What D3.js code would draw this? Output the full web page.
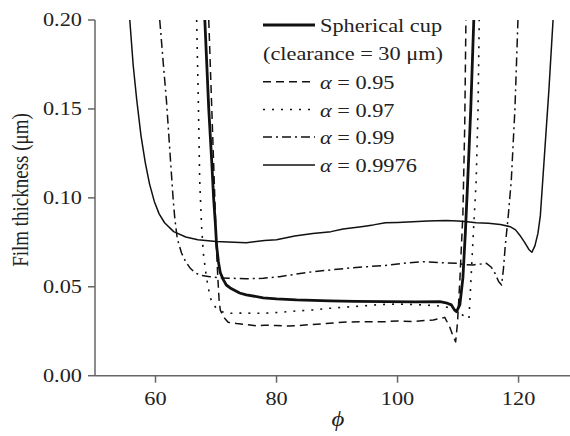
<!DOCTYPE html>
<html><head><meta charset="utf-8">
<script src="https://cdn.jsdelivr.net/npm/d3@7/dist/d3.min.js"></script>
<style>
html,body{margin:0;padding:0;background:#fff;}
svg{display:block;}
text{font-family:"Liberation Serif","Times New Roman",serif;fill:#222;}
</style></head>
<body>
<div id="chart"></div>
<script>
// ---- data ----
const xTicks = [60, 80, 100, 120];
const yTicks = [0.00, 0.05, 0.10, 0.15, 0.20];

const seriesNames = ["Spherical cup", "α = 0.95", "α = 0.97", "α = 0.99", "α = 0.9976"];

const phiCup = [68.15,68.8,69.3,69.6,69.9,70.1,70.4,70.7,71.2,71.7,72.5,73.9,75,77.8,80,83.3,88.8,93,98,103,107,108,108.9,109.4,109.75,110.3,110.8,111.2,111.6,112.1,112.6];
const hCup   = [0.2,0.15,0.12,0.10,0.085,0.073,0.064,0.058,0.054,0.051,0.049,0.0465,0.0455,0.0438,0.0432,0.0426,0.0421,0.0418,0.0416,0.0415,0.0416,0.041,0.0398,0.037,0.036,0.040,0.055,0.08,0.11,0.15,0.2];

const phi95 = [68.8,69.2,69.6,69.9,70.1,70.3,70.5,70.7,71.2,72,73.4,75,76.7,78,80,82,83.3,86,88.8,91.6,95,98.2,100,102.6,104,105.9,107.8,108.6,109.1,109.6,109.9,110.3,110.8,111.1,111.3];
const h95   = [0.2,0.16,0.12,0.09,0.07,0.055,0.043,0.037,0.0332,0.030,0.0293,0.0288,0.028,0.0284,0.0282,0.0279,0.0281,0.0288,0.0295,0.0302,0.0304,0.0304,0.0308,0.0304,0.0309,0.0313,0.0328,0.0276,0.023,0.019,0.0295,0.054,0.091,0.14,0.2];

const phi97 = [66.8,67.1,67.3,67.6,67.9,68.4,69,69.5,70.1,71,71.7,74,77.8,80,83.3,86,88.8,91,94.3,97,100,103,107,109,110,110.8,111.5,111.8,112,112.3,112.6,113,113.3,113.5];
const h97   = [0.2,0.15,0.11,0.085,0.069,0.0557,0.0444,0.040,0.0379,0.036,0.0351,0.0352,0.0351,0.0355,0.0364,0.037,0.0379,0.0385,0.0392,0.040,0.0403,0.040,0.0392,0.038,0.036,0.034,0.0325,0.032,0.045,0.065,0.085,0.11,0.15,0.2];

const phi99 = [60.7,61.3,61.8,62.4,62.9,63.2,63.6,64.3,65,65.7,66.5,67.3,69,70.6,72.3,75,77.8,80.5,83,86,89,91.6,95,98,101,104.2,107,109.75,111,112.5,114.7,115.5,116.1,116.7,117.2,117.5,117.8,118.3,118.8,119.4,119.9];
const h99   = [0.2,0.175,0.155,0.125,0.10,0.088,0.077,0.069,0.064,0.0606,0.058,0.0566,0.0557,0.055,0.0548,0.0545,0.0548,0.0557,0.057,0.0585,0.0595,0.0604,0.0613,0.062,0.0632,0.0641,0.0636,0.0632,0.0625,0.0623,0.0632,0.061,0.0576,0.053,0.051,0.06,0.073,0.09,0.11,0.15,0.2];

const phi9976 = [55.75,56.3,56.9,57.6,58.3,59,59.8,60.6,61.5,63,65,67,70,72,75,78,80,83,86,89,91,94,96,98,100,102.5,105,108,110,111.5,113,115,117,118.6,119.5,120.2,121,121.7,122.2,122.7,123.2,123.6,124.2,125,125.7];
const h9976   = [0.2,0.175,0.155,0.135,0.12,0.108,0.098,0.091,0.086,0.081,0.078,0.0765,0.0755,0.0752,0.0748,0.076,0.0765,0.0786,0.080,0.081,0.0825,0.0838,0.0848,0.086,0.0862,0.0866,0.087,0.0872,0.087,0.0866,0.086,0.0857,0.085,0.0838,0.082,0.079,0.075,0.071,0.0694,0.073,0.08,0.09,0.12,0.16,0.2];

// ---- layout ----
const W = 570, H = 436;
const SX = 1.24; // horizontal glyph stretch seen in the reference
const svg = d3.select("#chart").append("svg").attr("width", W).attr("height", H);

const x = d3.scaleLinear().domain([50, 128.5]).range([95, 570]);
const y = d3.scaleLinear().domain([0, 0.2]).range([375.7, 20]);

const axisColor = "#666";

// x axis
const gx = svg.append("g").attr("transform", `translate(0,${y(0)})`);
gx.append("line").attr("x1", x(50)).attr("x2", W).attr("stroke", axisColor).attr("stroke-width", 1.5);
gx.selectAll("line.tick").data(xTicks).join("line").attr("class","tick")
  .attr("x1", d => x(d)).attr("x2", d => x(d)).attr("y1", 0).attr("y2", 7)
  .attr("stroke", axisColor).attr("stroke-width", 1.5);
gx.selectAll("text").data(xTicks).join("text")
  .attr("transform", d => `translate(${x(d)},29) scale(${SX},1)`)
  .attr("text-anchor", "middle").attr("font-size", 18).text(d => d);

// y axis
const gy = svg.append("g").attr("transform", `translate(${x(50)},0)`);
gy.append("line").attr("y1", y(0)).attr("y2", y(0.2)).attr("stroke", axisColor).attr("stroke-width", 1.5);
gy.selectAll("line.tick").data(yTicks).join("line").attr("class","tick")
  .attr("y1", d => y(d)).attr("y2", d => y(d)).attr("x1", -7).attr("x2", 0)
  .attr("stroke", axisColor).attr("stroke-width", 1.5);
gy.selectAll("text").data(yTicks).join("text")
  .attr("transform", d => `translate(-13,${y(d) + 6}) scale(${SX},1)`)
  .attr("text-anchor", "end").attr("font-size", 18).text(d => d3.format(".2f")(d));

// axis titles
svg.append("text")
  .attr("transform", `translate(28,190) scale(${SX},1) rotate(-90)`)
  .attr("text-anchor", "middle").attr("font-size", 19).text("Film thickness (μm)");
svg.append("text")
  .attr("transform", `translate(338,426) scale(${SX},1)`)
  .attr("text-anchor", "middle").attr("font-size", 20).attr("font-style", "italic").text("ϕ");

// ---- series ----
const styles = [
  {w: 2.8, dash: null},
  {w: 1.5, dash: "8,5"},
  {w: 1.6, dash: "2,7"},
  {w: 1.5, dash: "9,4,2,4"},
  {w: 1.5, dash: null}
];
const phis = [phiCup, phi95, phi97, phi99, phi9976];
const hs = [hCup, h95, h97, h99, h9976];

svg.append("clipPath").attr("id", "clip").append("rect")
  .attr("x", x(50)).attr("y", y(0.2) - 1).attr("width", W).attr("height", y(0) - y(0.2) + 1);

const line = d3.line().x(d => x(d[0])).y(d => y(d[1])).curve(d3.curveMonotoneX);
const lineY = d3.line().x(d => x(d[0])).y(d => y(d[1])).curve(d3.curveLinear);

const plot = svg.append("g").attr("clip-path", "url(#clip)");
phis.forEach((p, i) => {
  const pts = p.map((v, j) => [v, hs[i][j]]);
  plot.append("path").datum(pts)
    .attr("d", lineY)
    .attr("fill", "none").attr("stroke", "#111")
    .attr("stroke-width", styles[i].w)
    .attr("stroke-linejoin", "round")
    .attr("stroke-dasharray", styles[i].dash);
});

// ---- legend ----
const leg = svg.append("g");
const rowsY = [25, 81.7, 109.5, 137, 165];
const textY = [32, 88.5, 116.5, 143.5, 171.5];
seriesNames.forEach((name, i) => {
  leg.append("line").attr("x1", 263).attr("x2", 315).attr("y1", rowsY[i]).attr("y2", rowsY[i])
    .attr("stroke", "#111").attr("stroke-width", styles[i].w)
    .attr("stroke-dasharray", styles[i].dash);
  const t = leg.append("text").attr("transform", `translate(320,${textY[i]}) scale(${SX},1)`)
    .attr("font-size", 18);
  if (name.startsWith("α")) {
    t.append("tspan").attr("font-style", "italic").text("α");
    t.append("tspan").text(name.slice(1));
  } else {
    t.text(name);
  }
});
leg.append("text").attr("transform", `translate(263,60) scale(${SX},1)`)
  .attr("font-size", 18).text("(clearance = 30 μm)");
</script>
</body></html>
